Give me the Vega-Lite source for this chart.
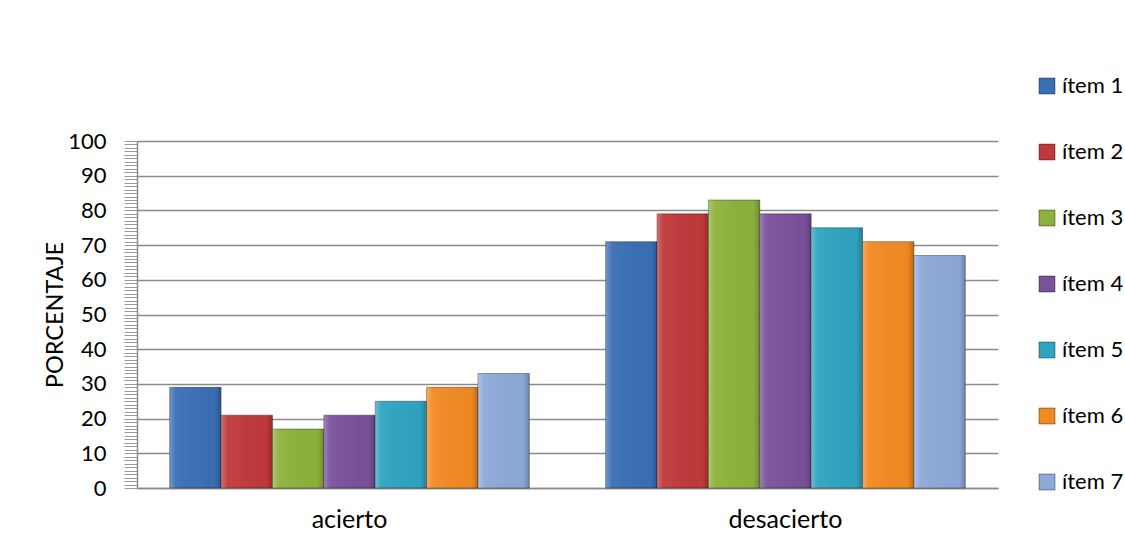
{
  "$schema": "https://vega.github.io/schema/vega-lite/v6.json",
  "autosize": "none",
  "width": 861,
  "height": 347,
  "padding": {"left": 137, "top": 141, "right": 127, "bottom": 54},
  "background": "white",
  "config": {"view": {"stroke": null}, "font": "Lato"},
  "data": {"values": [
    {"categoria": "acierto", "item": "ítem 1", "valor": 29},
    {"categoria": "acierto", "item": "ítem 2", "valor": 21},
    {"categoria": "acierto", "item": "ítem 3", "valor": 17},
    {"categoria": "acierto", "item": "ítem 4", "valor": 21},
    {"categoria": "acierto", "item": "ítem 5", "valor": 25},
    {"categoria": "acierto", "item": "ítem 6", "valor": 29},
    {"categoria": "acierto", "item": "ítem 7", "valor": 33},
    {"categoria": "desacierto", "item": "ítem 1", "valor": 71},
    {"categoria": "desacierto", "item": "ítem 2", "valor": 79},
    {"categoria": "desacierto", "item": "ítem 3", "valor": 83},
    {"categoria": "desacierto", "item": "ítem 4", "valor": 79},
    {"categoria": "desacierto", "item": "ítem 5", "valor": 75},
    {"categoria": "desacierto", "item": "ítem 6", "valor": 71},
    {"categoria": "desacierto", "item": "ítem 7", "valor": 67}
  ]},
  "encoding": {
    "x": {
      "field": "categoria", "type": "nominal", "sort": null,
      "scale": {"paddingInner": 0.175, "paddingOuter": 0.075},
      "axis": {"title": null, "labelAngle": 0, "labelFontSize": 25, "labelColor": "black", "labelPadding": 19, "ticks": false, "domainColor": "#8c8c8c", "domainWidth": 1.5}
    },
    "xOffset": {"field": "item", "type": "nominal", "sort": null, "scale": {"paddingInner": 0, "paddingOuter": 0}},
    "y": {
      "field": "valor", "type": "quantitative",
      "scale": {"domain": [0, 100], "nice": false},
      "axis": {
        "title": "PORCENTAJE", "titleFontSize": 23.5, "titleFontWeight": "normal", "titleColor": "black", "titlePadding": 0,
        "values": [0,1,2,3,4,5,6,7,8,9,10,11,12,13,14,15,16,17,18,19,20,21,22,23,24,25,26,27,28,29,30,31,32,33,34,35,36,37,38,39,40,41,42,43,44,45,46,47,48,49,50,51,52,53,54,55,56,57,58,59,60,61,62,63,64,65,66,67,68,69,70,71,72,73,74,75,76,77,78,79,80,81,82,83,84,85,86,87,88,89,90,91,92,93,94,95,96,97,98,99,100],
        "labelExpr": "datum.value % 10 === 0 ? datum.label : ''",
        "labelFontSize": 22, "labelColor": "black", "labelPadding": 18,
        "tickSize": 13, "tickColor": "#9a9a9a", "tickWidth": 1,
        "grid": true, "gridColor": "#8c8c8c", "gridWidth": 1.5,
        "gridOpacity": {"expr": "datum.value % 10 === 0 ? 1 : 0"},
        "domainColor": "#8c8c8c", "domainWidth": 1.5
      }
    }
  },
  "layer": [
    {
      "mark": {"type": "bar", "stroke": "black", "strokeOpacity": 0.35, "strokeWidth": 1},
      "encoding": {
        "color": {
          "field": "item", "type": "nominal", "sort": null,
          "scale": {"range": ["#3a6fb5", "#c0393a", "#8db23b", "#7a519b", "#2fa4c0", "#f28a22", "#8ea9d9"]},
          "legend": {
            "title": null, "orient": "none", "legendX": 899, "legendY": -66,
            "symbolType": "square", "symbolSize": 256, "symbolStrokeWidth": 1, "symbolStrokeColor": "#00000060",
            "labelFontSize": 22, "labelColor": "black", "rowPadding": 44, "labelOffset": 4
          }
        }
      }
    },
    {
      "mark": {
        "type": "bar",
        "fill": {"gradient": "linear", "x1": 0, "x2": 1, "y1": 0, "y2": 0, "stops": [
          {"offset": 0, "color": "rgba(255,255,255,0.28)"},
          {"offset": 0.12, "color": "rgba(255,255,255,0.05)"},
          {"offset": 0.88, "color": "rgba(0,0,0,0.02)"},
          {"offset": 1, "color": "rgba(0,0,0,0.22)"}
        ]}
      },
      "encoding": {}
    }
  ]
}
